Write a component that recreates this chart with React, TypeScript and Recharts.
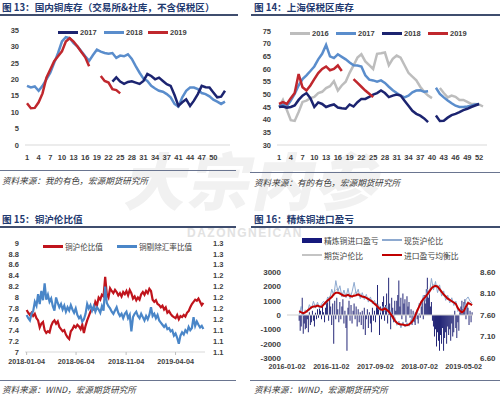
import React from "react";
import {
  Bar,
  ComposedChart,
  Line,
  LineChart,
  ReferenceLine,
  XAxis,
  YAxis,
} from "recharts";

// ---------- 图13 国内铜库存 (weekly, 万吨) ----------
// the source sheet has no week 40 row
const weeks13 = [
  1, 2, 3, 4, 5, 6, 7, 8, 9, 10, 11, 12, 13, 14, 15, 16, 17, 18, 19, 20, 21, 22, 23, 24, 25, 26,
  27, 28, 29, 30, 31, 32, 33, 34, 35, 36, 37, 38, 39, 41, 42, 43, 44, 45, 46, 47, 48, 49, 50, 51,
  52, 53,
];
const xTicks13 = [1, 4, 7, 10, 13, 16, 19, 22, 25, 28, 31, 34, 37, 41, 44, 47, 50];
const start2017_13 = 22; // row index where 2017 begins
const inv2017_13 = [
  19.3, 20.6, 19.3, 18.6, 19.2, 19.4, 19, 18.6, 19.5, 21.6, 21, 20, 20.5, 19.5, 18.5, 18, 15.2,
  11.9, 13, 13.9, 11.9, 13.5, 15.5, 18, 17.6, 17.5, 16, 14.5, 14.7, 16.5,
];
const inv2018_13 = [
  18, 17.5, 17.8, 16.5, 18, 20, 22, 25, 28, 31.5, 32.8, 32.5, 31, 30, 28.5, 27, 25.6, 27.4, 29,
  28.4, 28, 27.8, 28, 26.5, 27.2, 27, 27.6, 26.2, 24, 22, 20.2, 19.5, 18, 17.2, 16.5, 16.2, 15.5,
  14.5, 12.5, 11.7, 14.5, 16.5, 17.5, 17.5, 17, 15.8, 15.5, 14.8, 13.8, 13.2, 12.5, 13.2,
];
const inv2019_13 = [
  12.7, 11.2, 11.3, 13, 15.7, 20.5, 23, 25.5, 27, 28.5, 31.5, 32.5, 31.5, 30, 28.3, 26.7, 24,
  null, null, 21, 19.5, 19, 17, 16.7, 15.7,
];
const yTicks13 = [0, 5, 10, 15, 20, 25, 30, 35];

// ---------- 图14 上海保税区库存 ----------
const weeks14 = [
  1, 2, 3, 4, 5, 6, 7, 8, 9, 10, 11, 12, 13, 14, 15, 16, 17, 18, 19, 20, 21, 22, 23, 24, 25, 26,
  27, 28, 29, 30, 31, 32, 33, 34, 35, 36, 37, 38, 39, 40, 41, 42, 43, 44, 45, 46, 47, 48, 49, 50,
  51, 52, 53,
];
const xTicks14 = [1, 4, 7, 10, 13, 16, 19, 22, 25, 28, 31, 34, 37, 40, 43, 46, 49, 52];
const bond2016 = [
  45, 47.8, 43.8, 39.8, 39.5, 43, 47, 47.5, 48.5, 49, 50.5, 51, 52.5, 53.2, 55.2, 51.5, 53.5, 55,
  58.5, 61.4, 64.5, 65.8, 63, 61.5, 60, 66, 66.2, 66.5, 61.5, 64, 65.3, 64.5, 61.5, 58.5, 57, 55.5,
  53, 51, 49.5, 48.5, null, 52.5, 50.5, 48.8, 49.5, 49, 47.8, 47.8, 47, 46.2, 46.2, 46, 45.2,
];
const bond2017 = [
  45.2, 46, 45.2, 47.5, 50.2, 53.5, 56, 57.5, 59.2, 61, 63.8, 66, 69.5, 65, 64.3, 65.8, 64.8, 63.8,
  62.6, 61.5, 61.4, 61, 57.5, 55.8, 55.5, 55, 55.5, 54.5, 53, 51.6, 50.5, 49.5, 48.8, 49.5, 50.8,
  51.5, 51.6, 51, 51.2, null, 52.6, 50.2, 48.8, 47.6, 46.5, 45.5, 45, 45, 45.2, 45.5, 46, 46.2, null,
];
const bond2018 = [
  45, 45.2, 44.7, 45, 45.6, 47.8, 49.5, 50.5, 48.5, 45, 46.8, 46.2, 45, 45.6, 46, 44.8, 44.5, 44.3,
  46, 45.2, 46.9, 48.2, 48.2, 49, 49.9, 50.5, 51.5, 50.5, 48.9, 49.5, 49.9, 49.5, 47.5, 45.5, 43.5,
  42.3, 41.6, 40.5, 39, null, 41.6, 39.5, 39.6, 40.8, 41.8, 42.3, 43, 43.8, 44.3, 45, 45.6, 46.2,
  null,
];
const bond2019 = [
  46.2, 46.9, 46.2, 48.5, 50.5, 58, 52.8, 51.5, 53.5, 56, 58.4, 60, 61, 59.5, 60, 61.4, 59.2, null,
  null, 56, 54.5, 53, 51.5, 50.2, 48.9,
];
const yTicks14 = [30, 35, 40, 45, 50, 55, 60, 65, 70, 75];

// ---------- 图15 铜沪伦比值 (every 5 days from 2018-01-04) ----------
const step15 = 5;
const ratio15 = [
  7.77, 7.72, 7.68, 7.72, 7.66, 7.7, 7.62, 7.58, 7.45, 7.52,
  7.55, 7.4, 7.35, 7.38, 7.36, 7.48, 7.55, 7.58, 7.52, 7.56,
  7.46, 7.42, 7.38, 7.4, 7.32, 7.27, 7.24, 7.38, 7.42, 7.48,
  7.45, 7.5, 7.47, 7.42, 7.5, 7.35, 7.48, 7.58, 7.66, 7.74,
  7.8, 7.78, 7.92, 7.86, 8.0, 7.96, 8.05, 8.02, 8.38, 8.06,
  8.0, 8.17, 8.12, 8.08, 8.14, 8.1, 8.04, 8.08, 8.02, 8.1,
  8.06, 8.12, 8.04, 8.14, 8.08, 7.98, 8.02, 7.95, 8.0, 7.96,
  8.06, 8.1, 8.05, 8.12, 8.08, 8.16, 8.12, 7.96, 7.92, 7.95,
  7.88, 7.86, 7.82, 7.85, 7.78, 7.82, 7.72, 7.75, 7.7, 7.66,
  7.64, 7.62, 7.68, 7.6, 7.66, 7.64, 7.68, 7.65, 7.72, 7.75,
  7.82, 7.88, 7.92, 7.96, 7.94, 7.98, 7.92, 7.86, 7.9,
];
const adj15 = [
  1.168, 1.162, 1.158, 1.17, 1.175, 1.192, 1.185, 1.206, 1.188, 1.212,
  1.195, 1.226, 1.196, 1.205, 1.192, 1.198, 1.184, 1.176, 1.2, 1.19,
  1.182, 1.188, 1.178, 1.185, 1.174, 1.182, 1.176, 1.186, 1.178, 1.172,
  1.18, 1.168, 1.162, 1.166, 1.156, 1.16, 1.17, 1.188, 1.18, 1.186,
  1.176, 1.184, 1.174, 1.182, 1.178, 1.172, 1.184, 1.176, 1.22, 1.19,
  1.184, 1.18, 1.174, 1.17, 1.176, 1.182, 1.172, 1.166, 1.17, 1.162,
  1.17, 1.174, 1.162, 1.168, 1.138, 1.164, 1.17, 1.174, 1.166, 1.162,
  1.17, 1.164, 1.158, 1.166, 1.16, 1.168, 1.182, 1.166, 1.17, 1.162,
  1.168, 1.158, 1.154, 1.15, 1.146, 1.15, 1.142, 1.144, 1.138, 1.14,
  1.13, 1.134, 1.126, 1.115, 1.13, 1.136, 1.132, 1.14, 1.136, 1.146,
  1.14, 1.144, 1.164, 1.148, 1.156, 1.15, 1.145, 1.148, 1.142,
];
const xTicks15 = [0, 151, 304, 455];
const xLabels15 = ["2018-01-04", "2018-06-04", "2018-11-04", "2019-04-04"];
const yTicks15 = [7, 7.2, 7.4, 7.6, 7.8, 8, 8.2, 8.4, 8.6, 8.8, 9];
const yTicks15r = [1.1, 1.12, 1.14, 1.16, 1.18, 1.2, 1.22, 1.24, 1.26, 1.28, 1.3];

// ---------- 图16 精炼铜进口盈亏 (days from 2016-01-02) ----------
const start16 = 84;
const pnl16 = [
  -400, -1100, -800, 1200, -1300, -600, -1000,
  -900, -300, -1200, 200, -700, -500, 300, -400, -800, 150, -300,
  400, -200, 600, 300, -300, 700, 200, -500, 500, 900,
  1100, -400, 1300, 600, -700, 800, -2000, 1000, -300,
  1200, 400, -500, 900, -300, 600, 1100, -600, 300, -900,
  -2500,
  500, 1000, -400, 700, -600, 300, 800, -300, 600, -800, 400, -500, 200,
  -700, 300, -1000, 500, -1400, -300, 400, -900, 200, -600, -1200, 500, -400,
  300, -500, 800, 2100, 400,
  -1400, 600, -300,
  900, 1300, -400, 700, 1500, -600, 2600, 800, -1000, 1200, 500, -500, 1000, 300,
  1000, 1400, 2400, 600, 1200, -300, 1500, 800, 1100, -500, 1300, 600, 900, -200, 400, -700,
  300, -500, -700, 200, -300, -600, 100, -200,
  600, 1000, -300, 1400, 800, 1800, 2600, 1200, 1500, 600, 900, -400,
  -800, -1500, -1000, -2200, -1200, -1800, -2500, -1400, -2000, -900, -2500, -1600, -1200, -2000, -800, -1400,
  -1000, -1800, -600, -1500, -1200, 300, -900, -1600, -500, -1100, 200,
  600, 1000, 400, 900, 1100, -300, 800, 500,
  -700, 300, -500, 200,
];
const spot16 = [
  7.62, 7.8, 7.58, 7.72, 7.66, 7.84, 7.74, 7.92, 7.76, 7.9,
  7.74, 7.86, 7.92, 7.84, 8.02, 7.96, 8.2, 8.05, 8.4, 8.15,
  8.28, 8.02, 8.18, 8.0, 8.22, 7.98, 8.14, 8.36, 8.08, 8.2,
  7.98, 8.12, 7.96, 8.08, 7.9, 8.02, 7.86, 7.94, 7.78, 7.84,
  7.66, 7.8, 7.68, 7.82, 7.62, 7.7, 7.5, 7.55, 7.36, 7.46,
  7.3, 7.44, 7.32, 7.42, 7.34, 7.5, 7.44, 7.66, 7.62, 7.88,
  7.82, 8.06, 7.92, 8.2, 8.08, 8.45, 8.18, 8.38, 8.12, 8.3,
  8.04, 8.16, 7.94, 8.06, 7.88, 8.0, 7.82, 7.92, 7.68, 7.74,
  7.62, 7.76, 7.96, 8.02, 7.92, 7.88,
];
const fut16 = [
  7.66, 7.7, 7.62, 7.68, 7.72, 7.7, 7.8, 7.76, 7.84, 7.8,
  7.78, 7.82, 7.86, 7.92, 7.9, 8.04, 8.0, 8.14, 8.18, 8.22,
  8.08, 8.12, 8.02, 8.1, 8.06, 8.1, 8.0, 8.1, 8.14, 8.04,
  8.1, 8.0, 8.04, 7.98, 8.0, 7.92, 7.94, 7.84, 7.86, 7.74,
  7.76, 7.7, 7.78, 7.7, 7.66, 7.64, 7.52, 7.48, 7.4, 7.42,
  7.34, 7.4, 7.34, 7.38, 7.36, 7.44, 7.5, 7.56, 7.74, 7.78,
  7.94, 7.94, 8.06, 8.04, 8.2, 8.24, 8.32, 8.24, 8.3, 8.16,
  8.18, 8.04, 8.06, 7.96, 7.98, 7.9, 7.92, 7.84, 7.74, 7.7,
  7.64, 7.74, 7.84, 7.92, 7.84, 7.86,
];
const even16 = [
  7.69, 7.66, 7.64, 7.66, 7.7, 7.74, 7.78, 7.8, 7.8, 7.82,
  7.8, 7.79, 7.84, 7.89, 7.94, 7.98, 8.02, 8.08, 8.12, 8.12,
  8.1, 8.07, 8.05, 8.05, 8.07, 8.04, 8.03, 8.05, 8.06, 8.08,
  8.05, 8.03, 8.02, 8.0, 7.97, 7.94, 7.91, 7.86, 7.82, 7.77,
  7.73, 7.72, 7.75, 7.72, 7.68, 7.62, 7.55, 7.47, 7.42, 7.39,
  7.38, 7.38, 7.36, 7.36, 7.38, 7.42, 7.48, 7.58, 7.7, 7.8,
  7.9, 7.97, 8.02, 8.08, 8.15, 8.22, 8.26, 8.28, 8.26, 8.2,
  8.14, 8.08, 8.03, 7.98, 7.95, 7.92, 7.89, 7.86, 7.76, 7.7,
  7.66, 7.7, 7.8, 7.88, 7.86, 7.83,
];
const xTicks16 = [0, 305, 609, 912, 1216];
const xLabels16 = ["2016-01-02", "2016-11-02", "2017-09-02", "2018-07-02", "2019-05-02"];
const yTicks16 = [-3000, -2000, -1000, 0, 1000, 2000, 3000];
const yTicks16r = [6.6, 7.1, 7.6, 8.1, 8.6];

// ---------- tables ----------
const rows13 = weeks13.map((w, i) => ({
  week: w,
  y2017: i >= start2017_13 ? inv2017_13[i - start2017_13] ?? null : null,
  y2018: inv2018_13[i] ?? null,
  y2019: inv2019_13[i] ?? null,
}));
const rows14 = weeks14.map((w, i) => ({
  week: w,
  y2016: bond2016[i] ?? null,
  y2017: bond2017[i] ?? null,
  y2018: bond2018[i] ?? null,
  y2019: bond2019[i] ?? null,
}));
const rows15 = ratio15.map((v, i) => ({ d: i * step15, ratio: v, adj: adj15[i] }));
const rows16 = pnl16.map((v, i) => ({
  d: start16 + i * 7,
  pnl: v,
  spot: i % 2 === 0 ? spot16[i / 2] : null,
  fut: i % 2 === 0 ? fut16[i / 2] : null,
  even: i % 2 === 0 ? even16[i / 2] : null,
}));

const NUM = "'Liberation Sans', Arial, sans-serif";
const CJK = "'Noto Sans CJK SC', sans-serif";
const NAVY = "#1c2470";
const MID = "#5a8dcc";
const RED = "#c0272d";
const tick = { fontSize: 7.5, fill: "#404040", fontFamily: NUM, fontWeight: "bold" as const };

function Abs({ x, y, children }: { x: number; y: number; children: React.ReactNode }) {
  return <div style={{ position: "absolute", left: x, top: y }}>{children}</div>;
}

function Rule({ x, y, w, color = "#3f4d6e", h = 1.5 }: { x: number; y: number; w: number; color?: string; h?: number }) {
  return <div style={{ position: "absolute", left: x, top: y, width: w, height: h, background: color }} />;
}

function Title({ x, y, text }: { x: number; y: number; text: string }) {
  return (
    <div
      style={{
        position: "absolute",
        left: x,
        top: y,
        fontFamily: CJK,
        fontWeight: 700,
        fontSize: 9.6,
        color: "#1f3a70",
        lineHeight: "12px",
        whiteSpace: "nowrap",
      }}
    >
      {text}
    </div>
  );
}

function Source({ x, y, text }: { x: number; y: number; text: string }) {
  return (
    <div
      style={{
        position: "absolute",
        left: x,
        top: y,
        fontFamily: CJK,
        fontStyle: "italic",
        fontSize: 8.6,
        color: "#3a3a3a",
        lineHeight: "12px",
        whiteSpace: "nowrap",
      }}
    >
      {text}
    </div>
  );
}

function Key({
  x,
  y,
  color,
  label,
  thick = 3,
  len = 20,
  size = 7.5,
  cjk = false,
}: {
  x: number;
  y: number;
  color: string;
  label: string;
  thick?: number;
  len?: number;
  size?: number;
  cjk?: boolean;
}) {
  return (
    <div style={{ position: "absolute", left: x, top: y - 6, height: 12, display: "flex", alignItems: "center" }}>
      <span style={{ display: "inline-block", width: len, height: thick, background: color }} />
      <span
        style={{
          marginLeft: 2,
          fontSize: size,
          fontFamily: cjk ? CJK : NUM,
          fontWeight: cjk ? 400 : 700,
          color: "#404040",
          whiteSpace: "nowrap",
        }}
      >
        {label}
      </span>
    </div>
  );
}

function Chart13() {
  return (
    <LineChart width={240} height={145} data={rows13} margin={{ top: 10, right: 10, bottom: 0, left: 0 }}>
      <XAxis
        dataKey="week"
        ticks={xTicks13}
        interval={0}
        tickLine={false}
        axisLine={{ stroke: "#d9d9d9" }}
        tick={tick}
        tickMargin={4}
        padding={{ left: 2, right: 5 }}
        height={20}
      />
      <YAxis
        domain={[0, 35]}
        ticks={yTicks13}
        interval={0}
        width={25}
        axisLine={false}
        tickLine={false}
        tickSize={0}
        tickMargin={6}
        tick={tick}
      />
      <Line dataKey="y2018" stroke={MID} strokeWidth={2.5} dot={false} isAnimationActive={false} />
      <Line dataKey="y2017" stroke={NAVY} strokeWidth={2.5} dot={false} isAnimationActive={false} />
      <Line dataKey="y2019" stroke={RED} strokeWidth={2.5} dot={false} isAnimationActive={false} />
    </LineChart>
  );
}

function Chart14() {
  return (
    <LineChart width={250} height={145} data={rows14} margin={{ top: 11, right: 13, bottom: 0, left: 0 }}>
      <XAxis
        dataKey="week"
        ticks={xTicks14}
        interval={0}
        tickLine={false}
        axisLine={{ stroke: "#d9d9d9" }}
        tick={tick}
        tickMargin={4}
        padding={{ left: 2, right: 4 }}
        height={20}
      />
      <YAxis
        domain={[30, 75]}
        ticks={yTicks14}
        interval={0}
        width={27}
        axisLine={false}
        tickLine={false}
        tickSize={0}
        tickMargin={6}
        tick={tick}
      />
      <Line dataKey="y2016" stroke="#bdbdbd" strokeWidth={2.5} dot={false} isAnimationActive={false} />
      <Line dataKey="y2017" stroke={MID} strokeWidth={2.5} dot={false} isAnimationActive={false} />
      <Line dataKey="y2018" stroke={NAVY} strokeWidth={2.5} dot={false} isAnimationActive={false} />
      <Line dataKey="y2019" stroke={RED} strokeWidth={2.5} dot={false} isAnimationActive={false} />
    </LineChart>
  );
}

function Chart15() {
  return (
    <LineChart width={240} height={141} data={rows15} margin={{ top: 10, right: 0, bottom: 0, left: 0 }}>
      <XAxis
        dataKey="d"
        type="number"
        domain={[-5, 545]}
        ticks={xTicks15}
        interval={0}
        tickFormatter={(v: number) => xLabels15[xTicks15.indexOf(v)] ?? ""}
        tickSize={3}
        tickLine={{ stroke: "#bfbfbf" }}
        axisLine={{ stroke: "#d9d9d9" }}
        tick={{ ...tick, fontSize: 7.2 }}
        tickMargin={4}
        height={22}
      />
      <YAxis
        yAxisId="l"
        domain={[7, 9]}
        ticks={yTicks15}
        interval={0}
        width={25}
        axisLine={false}
        tickLine={false}
        tickSize={0}
        tickMargin={6}
        tick={tick}
      />
      <YAxis
        yAxisId="r"
        orientation="right"
        domain={[1.1, 1.3]}
        ticks={yTicks15r}
        interval={0}
        tickFormatter={(v: number) => v.toFixed(1)}
        width={35}
        axisLine={false}
        tickLine={false}
        tickSize={0}
        tickMargin={8}
        tick={tick}
      />
      <Line yAxisId="l" dataKey="ratio" stroke="#c0141c" strokeWidth={2.2} dot={false} isAnimationActive={false} />
      <Line yAxisId="r" dataKey="adj" stroke="#4a86c8" strokeWidth={2.2} dot={false} isAnimationActive={false} />
    </LineChart>
  );
}

function Chart16() {
  return (
    <ComposedChart width={250} height={116} data={rows16} margin={{ top: 10, right: 0, bottom: 0, left: 0 }}>
      <XAxis
        dataKey="d"
        type="number"
        domain={[0, 1280]}
        ticks={xTicks16}
        interval={0}
        tickFormatter={(v: number) => xLabels16[xTicks16.indexOf(v)] ?? ""}
        tickSize={0}
        tickLine={false}
        axisLine={false}
        tick={{ ...tick, fontSize: 7.2 }}
        tickMargin={6}
        height={20}
      />
      <YAxis
        yAxisId="l"
        domain={[-3000, 3000]}
        ticks={yTicks16}
        interval={0}
        width={37}
        axisLine={false}
        tickLine={false}
        tickSize={0}
        tickMargin={6}
        tick={{ ...tick, fontSize: 8 }}
      />
      <YAxis
        yAxisId="r"
        orientation="right"
        domain={[6.6, 8.6]}
        ticks={yTicks16r}
        interval={0}
        tickFormatter={(v: number) => v.toFixed(2)}
        width={27}
        axisLine={false}
        tickLine={false}
        tickSize={0}
        tickMargin={7}
        tick={{ ...tick, fontSize: 8 }}
      />
      <ReferenceLine yAxisId="l" y={0} stroke="#cfcfcf" />
      <Bar yAxisId="l" dataKey="pnl" fill="#10136b" barSize={1.6} isAnimationActive={false} />
      <Line yAxisId="r" dataKey="fut" stroke="#c4c4c4" strokeWidth={1} dot={false} connectNulls isAnimationActive={false} />
      <Line yAxisId="r" dataKey="spot" stroke="#8eaad0" strokeWidth={1} dot={false} connectNulls isAnimationActive={false} />
      <Line yAxisId="r" dataKey="even" stroke="#c00000" strokeWidth={2} dot={false} connectNulls isAnimationActive={false} />
    </ComposedChart>
  );
}

export default function App() {
  return (
    <div
      style={{
        position: "absolute",
        left: 0,
        top: 0,
        width: 500,
        height: 395,
        background: "#fff",
        overflow: "hidden",
        fontFamily: NUM,
      }}
    >
      {/* watermark */}
      <div
        style={{
          position: "absolute",
          left: 128,
          top: 138,
          fontFamily: CJK,
          fontWeight: 900,
          fontSize: 62,
          lineHeight: "80px",
          color: "#f1f1f1",
          letterSpacing: 2,
          transform: "skewX(-12deg)",
          whiteSpace: "nowrap",
        }}
      >
        大宗内参
      </div>
      <div
        style={{
          position: "absolute",
          left: 187,
          top: 226,
          fontFamily: NUM,
          fontWeight: 700,
          fontSize: 12,
          letterSpacing: 1.5,
          color: "#e2e2e2",
        }}
      >
        DAZONGNEICAN
      </div>

      {/* panel 13 */}
      <Title x={2} y={1} text="图 13：国内铜库存（交易所&社库，不含保税区）" />
      <Rule x={0} y={14} w={238} />
      <Key x={58} y={32} color={NAVY} label="2017" />
      <Key x={104} y={32} color={MID} label="2018" />
      <Key x={148} y={32} color={RED} label="2019" />
      <Abs x={0} y={20}>
        <Chart13 />
      </Abs>
      <Rule x={0} y={170} w={236} color="#6a7590" h={1.2} />
      <Source x={2} y={174} text="资料来源：我的有色，宏源期货研究所" />

      {/* panel 14 */}
      <Title x={254} y={1} text="图 14：上海保税区库存" />
      <Rule x={251} y={14} w={249} />
      <Key x={290} y={33} color="#bdbdbd" label="2016" />
      <Key x={336} y={33} color={MID} label="2017" />
      <Key x={382} y={33} color={NAVY} label="2018" />
      <Key x={428} y={33} color={RED} label="2019" />
      <Abs x={250} y={20}>
        <Chart14 />
      </Abs>
      <Rule x={250} y={172} w={250} color="#6a7590" h={1.2} />
      <Source x={254} y={176} text="资料来源：有的有色，宏源期货研究所" />

      {/* panel 15 */}
      <Title x={2} y={213} text="图 15：铜沪伦比值" />
      <Rule x={0} y={226} w={236} />
      <Key x={43} y={246} color="#c0141c" label="铜沪伦比值" cjk size={7.6} />
      <Key x={117} y={246} color="#4a86c8" label="铜剔除汇率比值" cjk size={7.6} />
      <Abs x={0} y={233}>
        <Chart15 />
      </Abs>
      <Rule x={0} y={380} w={236} color="#6a7590" h={1.2} />
      <Source x={2} y={383} text="资料来源：WIND，宏源期货研究所" />

      {/* panel 16 */}
      <Title x={254} y={213} text="图 16：精炼铜进口盈亏" />
      <Rule x={251} y={226} w={249} />
      <Key x={302} y={240} color="#16197c" label="精炼铜进口盈亏" cjk thick={5} size={7.8} />
      <Key x={382} y={240} color="#8eaad0" label="现货沪伦比" cjk thick={1.2} size={7.8} />
      <Key x={302} y={255} color="#c4c4c4" label="期货沪伦比" cjk thick={1.2} size={7.8} />
      <Key x={382} y={255} color="#c00000" label="进口盈亏均衡比" cjk thick={2} size={7.8} />
      <Abs x={250} y={262}>
        <Chart16 />
      </Abs>
      <Rule x={250} y={380} w={250} color="#6a7590" h={1.2} />
      <Source x={254} y={383} text="资料来源：WIND，宏源期货研究所" />
    </div>
  );
}
